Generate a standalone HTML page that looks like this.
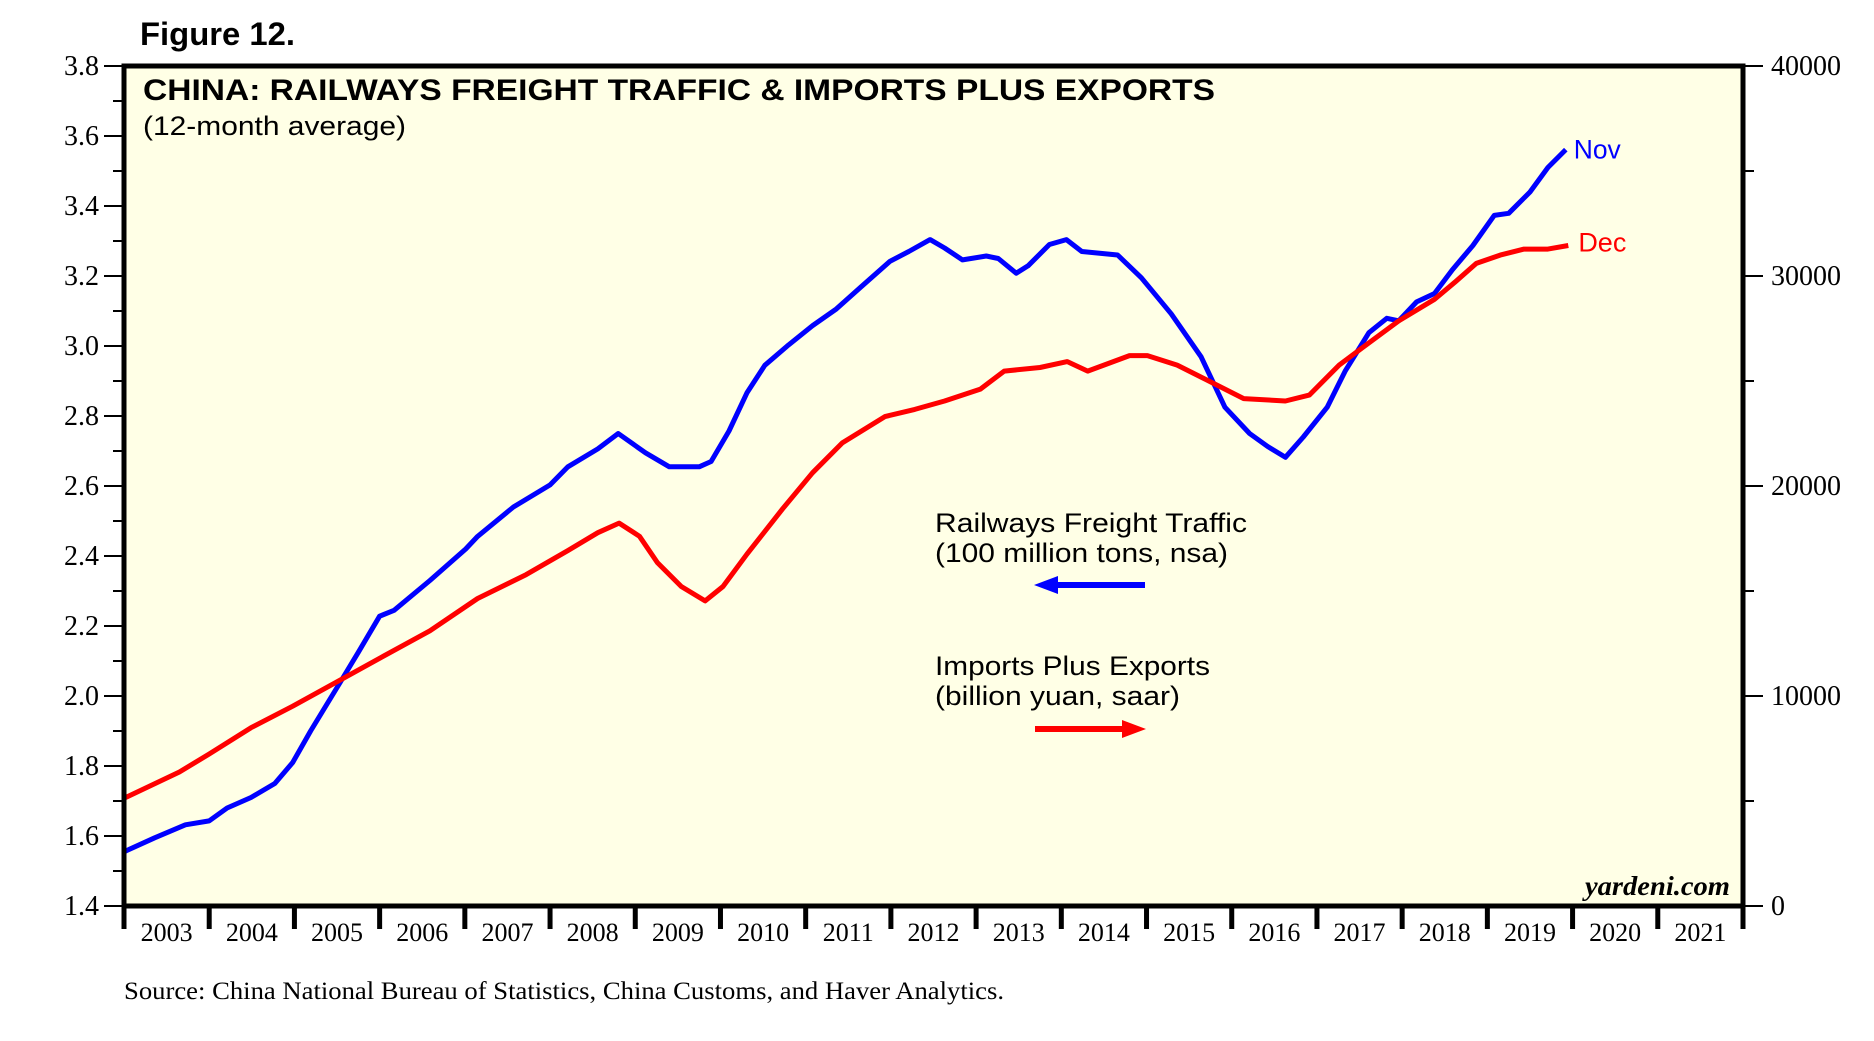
<!DOCTYPE html>
<html><head><meta charset="utf-8"><style>
body{margin:0;background:#fff}
svg{display:block}
</style></head><body>
<svg id="chart" width="1874" height="1041" viewBox="0 0 1874 1041" xmlns="http://www.w3.org/2000/svg">
<text x="140" y="45" textLength="155" lengthAdjust="spacingAndGlyphs" font-family="Liberation Sans, sans-serif" font-weight="bold" font-size="32">Figure 12.</text>
<rect x="124" y="66" width="1619" height="840" fill="#ffffe6"/>
<g id="axes"></g>
<g id="series"></g>
<rect x="124" y="66" width="1619" height="840" fill="none" stroke="#000" stroke-width="5"/>
<text x="143" y="100" textLength="1072" lengthAdjust="spacingAndGlyphs" font-family="Liberation Sans, sans-serif" font-weight="bold" font-size="30">CHINA: RAILWAYS FREIGHT TRAFFIC &amp; IMPORTS PLUS EXPORTS</text>
<text x="143" y="135" textLength="263" lengthAdjust="spacingAndGlyphs" font-family="Liberation Sans, sans-serif" font-size="27">(12-month average)</text>
<text x="935" y="532" textLength="312" lengthAdjust="spacingAndGlyphs" font-family="Liberation Sans, sans-serif" font-size="27">Railways Freight Traffic</text>
<text x="935" y="562" textLength="293" lengthAdjust="spacingAndGlyphs" font-family="Liberation Sans, sans-serif" font-size="27">(100 million tons, nsa)</text>
<g><line x1="1050" y1="585" x2="1145" y2="585" stroke="#0000ff" stroke-width="6"/><polygon points="1034,585 1058,576 1058,594" fill="#0000ff"/></g>
<text x="935" y="675" textLength="275" lengthAdjust="spacingAndGlyphs" font-family="Liberation Sans, sans-serif" font-size="27">Imports Plus Exports</text>
<text x="935" y="705" textLength="245" lengthAdjust="spacingAndGlyphs" font-family="Liberation Sans, sans-serif" font-size="27">(billion yuan, saar)</text>
<g><line x1="1035" y1="729" x2="1130" y2="729" stroke="#ff0000" stroke-width="6"/><polygon points="1146,729 1122,720 1122,738" fill="#ff0000"/></g>
<text x="1585" y="895" textLength="145" lengthAdjust="spacingAndGlyphs" font-family="Liberation Serif, serif" font-style="italic" font-weight="bold" font-size="27">yardeni.com</text>
<text x="124" y="999" textLength="880" lengthAdjust="spacingAndGlyphs" font-family="Liberation Serif, serif" font-size="25">Source: China National Bureau of Statistics, China Customs, and Haver Analytics.</text>
</svg>
<script>
const blueYears=[2003.00,2003.36,2003.72,2004.00,2004.21,2004.49,2004.77,2004.98,2005.19,2005.54,2005.75,2006.00,2006.17,2006.59,2007.01,2007.15,2007.57,2008.00,2008.21,2008.56,2008.80,2009.12,2009.40,2009.75,2009.89,2010.10,2010.31,2010.52,2010.80,2011.08,2011.36,2011.64,2011.99,2012.21,2012.46,2012.63,2012.84,2013.12,2013.26,2013.47,2013.61,2013.86,2014.06,2014.24,2014.66,2014.94,2015.29,2015.64,2015.92,2016.21,2016.42,2016.63,2016.84,2017.12,2017.33,2017.61,2017.82,2017.96,2018.17,2018.38,2018.59,2018.83,2019.08,2019.25,2019.50,2019.71,2019.92];
const railValues=[1.555,1.595,1.632,1.643,1.68,1.71,1.75,1.81,1.90,2.04,2.125,2.228,2.245,2.33,2.42,2.456,2.54,2.603,2.655,2.706,2.75,2.695,2.655,2.655,2.67,2.757,2.866,2.945,3.003,3.058,3.106,3.167,3.242,3.27,3.304,3.28,3.246,3.257,3.25,3.208,3.229,3.29,3.304,3.27,3.26,3.195,3.092,2.969,2.825,2.75,2.713,2.682,2.74,2.825,2.928,3.038,3.079,3.072,3.126,3.15,3.218,3.287,3.373,3.379,3.44,3.51,3.561];
const redYears=[2003.00,2003.65,2004.00,2004.49,2004.98,2005.54,2006.00,2006.59,2007.15,2007.72,2008.21,2008.56,2008.81,2009.05,2009.26,2009.54,2009.82,2010.03,2010.31,2010.73,2011.08,2011.43,2011.93,2012.28,2012.63,2013.05,2013.33,2013.75,2014.07,2014.31,2014.80,2015.01,2015.36,2015.64,2015.92,2016.14,2016.63,2016.91,2017.26,2017.54,2017.96,2018.38,2018.63,2018.87,2019.15,2019.43,2019.71,2019.95];
const tradeValues=[5128,6382,7236,8490,9516,10769,11795,13105,14644,15783,16923,17778,18234,17607,16353,15214,14530,15214,16752,18917,20627,22051,23305,23647,24046,24615,25470,25641,25926,25470,26211,26211,25755,25185,24615,24160,24046,24330,25755,26610,27863,28889,29744,30598,30997,31282,31282,31453];
const leftTicks=[1.4,1.6,1.8,2.0,2.2,2.4,2.6,2.8,3.0,3.2,3.4,3.6,3.8];
const rightTicks=[0,10000,20000,30000,40000];
const yearLabels=[2003,2004,2005,2006,2007,2008,2009,2010,2011,2012,2013,2014,2015,2016,2017,2018,2019,2020,2021];

const L=124,R=1743,T=66,B=906;
const xS=y=>L+(y-2003)/19*(R-L);
const yL=v=>B-(v-1.4)/2.4*(B-T);
const yR=v=>B-v/40000*(B-T);
const NS='http://www.w3.org/2000/svg';
function mk(tag,attrs,parent,txt){const e=document.createElementNS(NS,tag);for(const k in attrs)e.setAttribute(k,attrs[k]);if(txt!==undefined)e.textContent=txt;parent.appendChild(e);return e;}
const ax=document.getElementById('axes');
leftTicks.forEach((v,i)=>{
  const y=yL(v);
  const t=mk('line',{x1:104,y1:y,x2:L,y2:y,stroke:'#000','stroke-width':2},ax);
  
  
  if(i<leftTicks.length-1){const m=yL(v+0.1);const mt=mk('line',{x1:113,y1:m,x2:L,y2:m,stroke:'#000','stroke-width':2},ax);
    
    }
  const lb=mk('text',{x:99,y:y+9,'text-anchor':'end','font-family':'Liberation Serif, serif','font-size':28},ax,v.toFixed(1));
  
  
});
rightTicks.forEach((v,i)=>{
  const y=yR(v);
  const t=mk('line',{x1:R,y1:y,x2:1763,y2:y,stroke:'#000','stroke-width':2},ax);
  
  
  if(i<rightTicks.length-1){const m=yR(v+5000);const mt=mk('line',{x1:R,y1:m,x2:1754,y2:m,stroke:'#000','stroke-width':2},ax);
    
    }
  const lb=mk('text',{x:1771,y:y+9,'font-family':'Liberation Serif, serif','font-size':28},ax,String(v));
  
  
});
for(let i=0;i<=yearLabels.length;i++){
  const x=xS(2003+i);
  const t=mk('line',{x1:x,y1:B,x2:x,y2:929,stroke:'#000','stroke-width':5},ax);
  
  
}
yearLabels.forEach(yr=>{
  const lb=mk('text',{x:xS(yr+0.5),y:941,'text-anchor':'middle','font-family':'Liberation Serif, serif','font-size':26},ax,String(yr));
  
  
});
const sg=document.getElementById('series');
const bp=mk('path',{d:blueYears.map((y,i)=>(i?'L':'M')+xS(y).toFixed(1)+','+yL(railValues[i]).toFixed(1)).join(' '),fill:'none',stroke:'#0000ff','stroke-width':5,'stroke-linejoin':'round'},sg);


const rp=mk('path',{d:redYears.map((y,i)=>(i?'L':'M')+xS(y).toFixed(1)+','+yR(tradeValues[i]).toFixed(1)).join(' '),fill:'none',stroke:'#ff0000','stroke-width':5,'stroke-linejoin':'round'},sg);


const bl=blueYears.length-1;
const nl=mk('text',{x:xS(blueYears[bl])+8,y:yL(railValues[bl])+9,fill:'#0000ff','font-family':'Liberation Sans, sans-serif','font-size':27,textLength:47,lengthAdjust:'spacingAndGlyphs'},sg,'Nov');


const rl=redYears.length-1;
const dl=mk('text',{x:xS(redYears[rl])+10,y:yR(tradeValues[rl])+6,fill:'#ff0000','font-family':'Liberation Sans, sans-serif','font-size':27,textLength:48,lengthAdjust:'spacingAndGlyphs'},sg,'Dec');


</script>
</body></html>
